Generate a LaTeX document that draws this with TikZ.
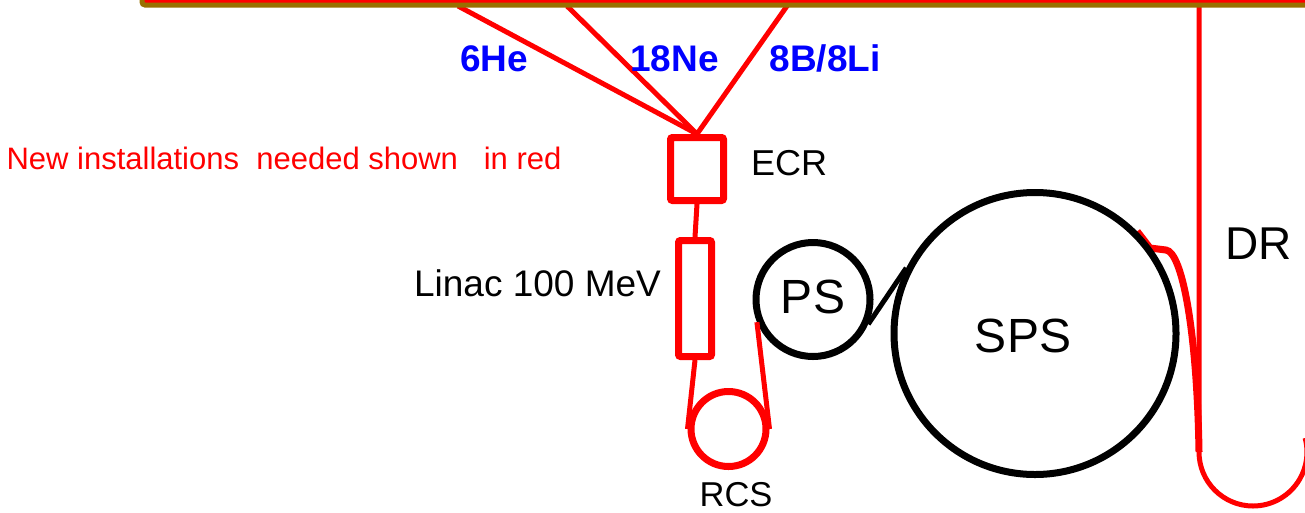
\documentclass[tikz,border=0pt]{standalone}
\usepackage{fontspec}
\setmainfont{Liberation Sans}
\usetikzlibrary{backgrounds}
\definecolor{barbrown}{RGB}{153,112,0}
\definecolor{ionblue}{RGB}{0,0,255}
\begin{document}
\begin{tikzpicture}[x=1pt,y=1pt,
  redline/.style={draw=red,line width=5},
  redthick/.style={draw=red,line width=7},
  redbox/.style={rectangle,draw=red,line width=7,rounded corners=2,inner sep=0},
  ring/.style={circle,draw=black,line width=7,inner sep=0},
  redring/.style={circle,draw=red,line width=7,inner sep=0},
  lbl/.style={inner sep=0,anchor=base,yshift={-0.358*#1},font=\fontsize{#1}{#1}\selectfont},
]
\useasboundingbox (0,0) rectangle (1305,-512);
% fan apex and bar endpoints
\coordinate (he) at (458,-6);
\coordinate (ne) at (567,-6);
\coordinate (bl) at (787,-6);
\coordinate (drtop) at (1199,-6);
\coordinate (drbot) at (1199,-452);
% nodes
\node[redbox,minimum width=53,minimum height=63] (ECR) at (697,-169) {};
\node[redbox,minimum width=33,minimum height=116] (Linac) at (695,-298.5) {};
\node[redring,minimum size=75] (RCS) at (728.5,-429) {};
\node[ring,minimum size=114] (PS) at (813,-299.5) {};
\node[ring,minimum size=282] (SPS) at (1035,-333.5) {};
% connectors
\draw[redline] (ECR.north) -- (he);
\draw[redline] (ECR.north) -- (ne);
\draw[redline] (ECR.north) -- (bl);
\draw[redline] (ECR.south) -- (Linac.north);
\draw[redline] (Linac.south) -- (RCS.west);
\draw[redline] (PS.202) -- (RCS.east);
\draw[draw=black,line width=5] (PS.-24) -- (SPS.153);
\begin{scope}[on background layer]
\draw[redthick] (SPS.45) -- (1150,-248) -- (1166,-250)
   .. controls (1182,-252) and (1197,-330) .. (drbot);
\end{scope}
\draw[redline] (drtop) -- (drbot) arc[start angle=180,end angle=375,radius=54];
% top bar
\draw[draw=barbrown,fill=red,line width=5,rounded corners=3] (142,-5) rectangle (1340,40);
% labels
\node[lbl=37,text=ionblue,font=\fontsize{37}{37}\selectfont\bfseries] (lhe) at (494,-58.5) {6He};
\node[lbl=37,text=ionblue,font=\fontsize{37}{37}\selectfont\bfseries] (lne) at (674.5,-58.5) {18Ne};
\node[lbl=37,text=ionblue,font=\fontsize{37}{37}\selectfont\bfseries] (lbl8) at (825,-58.5) {8B/8Li};
\node[lbl=31,text=red] (note) at (284,-158.5) {New installations\ \ needed shown\ \ \ in red};
\node[lbl=36] (lecr) at (789,-163) {ECR};
\node[lbl=37] (llinac) at (537.5,-283.7) {Linac 100 MeV};
\node[lbl=34.5] (lrcs) at (736,-494.5) {RCS};
\node[lbl=48] (lps) at (813,-296) {PS};
\node[lbl=48] (lsps) at (1023,-335) {SPS};
\node[lbl=46] (ldr) at (1258.5,-243.5) {DR};
\end{tikzpicture}
\end{document}
